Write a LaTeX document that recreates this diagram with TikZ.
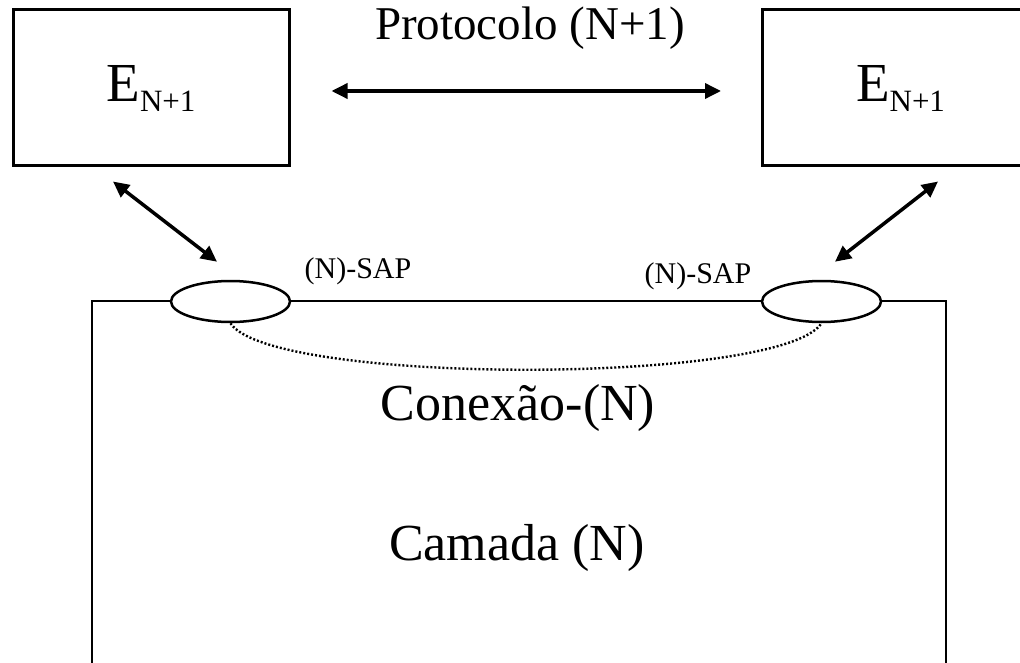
\documentclass[tikz,border=0pt]{standalone}
\usepackage{fontspec}
\setmainfont{Liberation Serif}
\usetikzlibrary{arrows.meta,positioning,shapes.geometric}

% subscript of the entities
\newcommand{\entsub}[1]{\raisebox{-10pt}{\fontsize{31}{34}\selectfont #1}}

\begin{document}
\begin{tikzpicture}
			[x=1pt, y=-1pt, font=\fontsize{47}{52}\selectfont,
			% STYLES
			% The entity style is used to draw the (N+1) entities
			entity/.style={rectangle, draw, line width=3pt, minimum width=276pt, minimum height=156pt, inner sep=0pt, font=\fontsize{55}{60}\selectfont},
			% The sap style is used to draw the access points
			sap/.style={ellipse, draw, fill=white, line width=2.5pt, minimum width=119pt, minimum height=41pt, inner sep=0pt},
			% The text styles
			small/.style={anchor=base, font=\fontsize{30}{34}\selectfont},
			big/.style={anchor=base, font=\fontsize{52}{58}\selectfont},
			% The link style is used to draw the double arrows
			link/.style={{Triangle[length=16pt,width=15pt]}-{Triangle[length=16pt,width=15pt]}, line width=3.5pt}]
			\useasboundingbox (0,0) rectangle (1020,663);
			\clip (0,0) rectangle (1020,663);
			% Draw entities
			\node [entity] (entL) at (151,88) {E\entsub{N+1}};
			\node [entity] (entR) at (900.5,88) {E\entsub{N+1}};
			% Draw layer
			\draw [line width=2pt] (92,700) -- (92,301) -- (946,301) -- (946,700);
			\node [sap] (sapL) at (230.5,301.5) {};
			\node [sap] (sapR) at (821.5,301.5) {};
			%%%%%%%%%%%%%%%
			% Texts
			\node [anchor=base] (proto) at (530,40) {Protocolo (N+1)};
			\node [small] (sapLtxt) at (358,278) {(N)-SAP};
			\node [small] (sapRtxt) at (698,283) {(N)-SAP};
			\node [big] (conn) at (518,420) {Conexão-(N)};
			\node [big] (layer) at (517,560) {Camada (N)};
			%%%%%%%%%%%%%%%
			% Draw the links
			\coordinate (entLfoot) at ([shift={(-38,14)}]entL.south);
			\coordinate (entRfoot) at ([shift={(37.5,14)}]entR.south);
			\coordinate (sapLtop) at ([shift={(-13.5,-18)}]sapL.north);
			\coordinate (sapRtop) at ([shift={(13.5,-18)}]sapR.north);
			\draw [link, shorten <=41pt, shorten >=40pt] ([yshift=-3pt]entL.east) -- ([yshift=-3pt]entR.west);
			\draw [link] (entLfoot) -- (sapLtop);
			\draw [link] (entRfoot) -- (sapRtop);
			\draw [line width=2.4pt, dash pattern=on 2pt off 2pt] (sapL.south) .. controls +(40,62) and +(-40,62) .. (sapR.south);
\end{tikzpicture}
\end{document}
